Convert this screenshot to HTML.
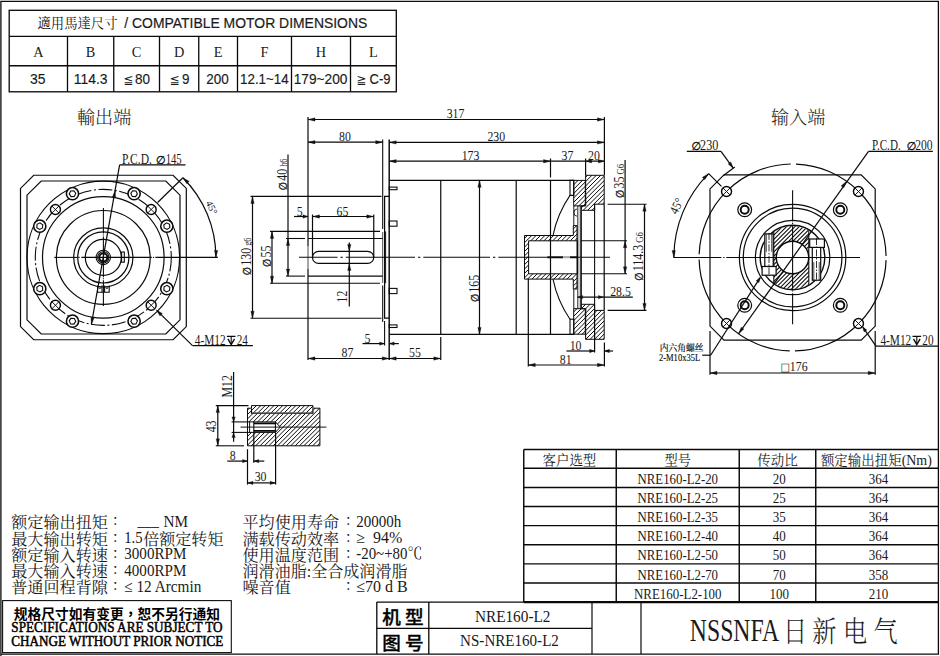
<!DOCTYPE html>
<html lang="zh"><head><meta charset="utf-8"><title>NRE160-L2</title>
<style>
html,body{margin:0;padding:0;background:#fff;}
body{width:940px;height:656px;overflow:hidden;}
svg{display:block;}
svg text{white-space:pre;}
</style></head><body>
<svg width="940" height="656" viewBox="0 0 940 656" fill="none" stroke="#0a0a0a" stroke-linecap="butt">
<rect x="0" y="0" width="940" height="656" fill="#fff" stroke="none"/>
<path d="M0.9 656 V1.3 H938.4 V654.2 H0.9" stroke-width="1.3"/>
<rect x="9.2" y="10.3" width="387.1" height="81.5" stroke-width="1.32" />
<line x1="9.2" y1="36.3" x2="396.3" y2="36.3" stroke-width="1.32" />
<line x1="9.2" y1="65.75" x2="396.3" y2="65.75" stroke-width="1.32" />
<line x1="67.5" y1="36.3" x2="67.5" y2="91.8" stroke-width="1.32" />
<line x1="113.75" y1="36.3" x2="113.75" y2="91.8" stroke-width="1.32" />
<line x1="159.5" y1="36.3" x2="159.5" y2="91.8" stroke-width="1.32" />
<line x1="198.75" y1="36.3" x2="198.75" y2="91.8" stroke-width="1.32" />
<line x1="237.5" y1="36.3" x2="237.5" y2="91.8" stroke-width="1.32" />
<line x1="291.5" y1="36.3" x2="291.5" y2="91.8" stroke-width="1.32" />
<line x1="350.5" y1="36.3" x2="350.5" y2="91.8" stroke-width="1.32" />
<text x="37.5" y="28.2" font-size="13.4" text-anchor="start" font-family="Liberation Serif, Noto Serif CJK SC, serif" textLength="80" lengthAdjust="spacingAndGlyphs" fill="#1a1a1a" stroke="none" >適用馬達尺寸</text>
<text x="124.3" y="28.1" font-size="15" text-anchor="start" font-family="Liberation Sans, Noto Sans CJK SC, sans-serif" textLength="243" lengthAdjust="spacingAndGlyphs" fill="#1a1a1a" stroke="#1a1a1a" stroke-width="0.2" >/ COMPATIBLE MOTOR DIMENSIONS</text>
<text x="38.35" y="57" font-size="14.3" text-anchor="middle" font-family="Liberation Serif, Noto Serif CJK SC, serif" fill="#1a1a1a" stroke="none" >A</text>
<text x="90.62" y="57" font-size="14.3" text-anchor="middle" font-family="Liberation Serif, Noto Serif CJK SC, serif" fill="#1a1a1a" stroke="none" >B</text>
<text x="136.62" y="57" font-size="14.3" text-anchor="middle" font-family="Liberation Serif, Noto Serif CJK SC, serif" fill="#1a1a1a" stroke="none" >C</text>
<text x="179.12" y="57" font-size="14.3" text-anchor="middle" font-family="Liberation Serif, Noto Serif CJK SC, serif" fill="#1a1a1a" stroke="none" >D</text>
<text x="218.12" y="57" font-size="14.3" text-anchor="middle" font-family="Liberation Serif, Noto Serif CJK SC, serif" fill="#1a1a1a" stroke="none" >E</text>
<text x="264.5" y="57" font-size="14.3" text-anchor="middle" font-family="Liberation Serif, Noto Serif CJK SC, serif" fill="#1a1a1a" stroke="none" >F</text>
<text x="321" y="57" font-size="14.3" text-anchor="middle" font-family="Liberation Serif, Noto Serif CJK SC, serif" fill="#1a1a1a" stroke="none" >H</text>
<text x="373.4" y="57" font-size="14.3" text-anchor="middle" font-family="Liberation Serif, Noto Serif CJK SC, serif" fill="#1a1a1a" stroke="none" >L</text>
<text x="30" y="83.9" font-size="14.6" text-anchor="start" font-family="Liberation Sans, Noto Sans CJK SC, sans-serif" textLength="15.5" lengthAdjust="spacingAndGlyphs" fill="#1a1a1a" stroke="#1a1a1a" stroke-width="0.15" >35</text>
<text x="73.75" y="83.9" font-size="14.6" text-anchor="start" font-family="Liberation Sans, Noto Sans CJK SC, sans-serif" textLength="33.75" lengthAdjust="spacingAndGlyphs" fill="#1a1a1a" stroke="#1a1a1a" stroke-width="0.15" >114.3</text>
<text x="135" y="83.9" font-size="14.6" text-anchor="start" font-family="Liberation Sans, Noto Sans CJK SC, sans-serif" textLength="15" lengthAdjust="spacingAndGlyphs" fill="#1a1a1a" stroke="#1a1a1a" stroke-width="0.15" >80</text>
<text x="182" y="83.9" font-size="14.6" text-anchor="start" font-family="Liberation Sans, Noto Sans CJK SC, sans-serif" textLength="7.5" lengthAdjust="spacingAndGlyphs" fill="#1a1a1a" stroke="#1a1a1a" stroke-width="0.15" >9</text>
<text x="206.25" y="83.9" font-size="14.6" text-anchor="start" font-family="Liberation Sans, Noto Sans CJK SC, sans-serif" textLength="22.5" lengthAdjust="spacingAndGlyphs" fill="#1a1a1a" stroke="#1a1a1a" stroke-width="0.15" >200</text>
<text x="240" y="83.9" font-size="14.6" text-anchor="start" font-family="Liberation Sans, Noto Sans CJK SC, sans-serif" textLength="48.75" lengthAdjust="spacingAndGlyphs" fill="#1a1a1a" stroke="#1a1a1a" stroke-width="0.15" >12.1~14</text>
<text x="293.75" y="83.9" font-size="14.6" text-anchor="start" font-family="Liberation Sans, Noto Sans CJK SC, sans-serif" textLength="53.75" lengthAdjust="spacingAndGlyphs" fill="#1a1a1a" stroke="#1a1a1a" stroke-width="0.15" >179~200</text>
<text x="369.5" y="83.9" font-size="14.6" text-anchor="start" font-family="Liberation Sans, Noto Sans CJK SC, sans-serif" textLength="21" lengthAdjust="spacingAndGlyphs" fill="#1a1a1a" stroke="#1a1a1a" stroke-width="0.15" >C-9</text>
<text x="123.5" y="83.6" font-size="12.5" text-anchor="start" font-family="DejaVu Sans, sans-serif" textLength="10" lengthAdjust="spacingAndGlyphs" fill="#1a1a1a" stroke="none" >≦</text>
<text x="169.8" y="83.6" font-size="12.5" text-anchor="start" font-family="DejaVu Sans, sans-serif" textLength="10" lengthAdjust="spacingAndGlyphs" fill="#1a1a1a" stroke="none" >≦</text>
<text x="356.5" y="83.6" font-size="12.5" text-anchor="start" font-family="DejaVu Sans, sans-serif" textLength="10" lengthAdjust="spacingAndGlyphs" fill="#1a1a1a" stroke="none" >≧</text>
<text x="77" y="123.5" font-size="18.1" text-anchor="start" font-family="Liberation Serif, Noto Serif CJK SC, serif" textLength="54.3" lengthAdjust="spacingAndGlyphs" fill="#1a1a1a" stroke="none" font-weight="300">輸出端</text>
<text x="771" y="123.5" font-size="18.1" text-anchor="start" font-family="Liberation Serif, Noto Serif CJK SC, serif" textLength="54.3" lengthAdjust="spacingAndGlyphs" fill="#1a1a1a" stroke="none" font-weight="300">输入端</text>
<path d="M33.7 175.25 L173.1 175.25 L186.3 188.45 L186.3 326.55 L173.1 339.75 L33.7 339.75 L20.5 326.55 L20.5 188.45 Z" stroke-width="1.2" />
<path d="M41.2 181 L165.8 181 L180 195.2 L180 319.8 L165.8 334 L41.2 334 L27 319.8 L27 195.2 Z" stroke-width="1.2" />
<circle cx="103.3" cy="257.4" r="76.3" stroke-width="1.2" />
<circle cx="103.3" cy="257.4" r="60.8" stroke-width="1.2" />
<circle cx="103.3" cy="257.4" r="46.9" stroke-width="1.2" />
<circle cx="103.3" cy="257.4" r="29.6" stroke-width="1.2" />
<circle cx="103.3" cy="257.4" r="25.6" stroke-width="1.2" />
<circle cx="103.3" cy="257.4" r="18" stroke-width="1.2" />
<circle cx="103.3" cy="257.4" r="68" stroke-width="1.08" stroke-dasharray="14 2.5 2 2.5"/>
<circle cx="103.3" cy="257.4" r="7.2" stroke-width="1.08" />
<circle cx="103.3" cy="257.4" r="5.6" stroke-width="1.08" />
<circle cx="103.3" cy="257.4" r="4" stroke-width="1.92" />
<line x1="54.2" y1="257.4" x2="77.2" y2="257.4" stroke-width="1.08" />
<line x1="78.3" y1="257.4" x2="79.6" y2="257.4" stroke-width="1.08" />
<line x1="81.4" y1="257.4" x2="151.8" y2="257.4" stroke-width="1.08" />
<line x1="152.9" y1="257.4" x2="154.2" y2="257.4" stroke-width="1.08" />
<line x1="155.4" y1="257.4" x2="217.9" y2="257.4" stroke-width="1.08" />
<line x1="103.4" y1="208" x2="103.4" y2="233.6" stroke-width="1.08" />
<line x1="103.4" y1="234.4" x2="103.4" y2="235.4" stroke-width="1.08" />
<line x1="103.4" y1="236.4" x2="103.4" y2="277.3" stroke-width="1.08" />
<line x1="103.4" y1="278.2" x2="103.4" y2="279.2" stroke-width="1.08" />
<line x1="103.4" y1="280.2" x2="103.4" y2="306" stroke-width="1.08" />
<rect x="121.6" y="252" width="2.7" height="10.2" stroke-width="1.08" />
<path d="M97.6 285.4 V292.2 H109.2 V285.4 M102 285.4 V292.2 M104.6 285.4 V292.2" stroke-width="1.08" />
<circle cx="99.9" cy="287.6" r="1" stroke-width="0.84" />
<circle cx="106.9" cy="287.6" r="1" stroke-width="0.84" />
<circle cx="166.83" cy="226.14" r="6.1" stroke-width="1.56" fill="#fff"/>
<path d="M169.79 227.6 L167.04 229.43 L164.08 227.98 L163.86 224.68 L166.61 222.85 L169.57 224.31 Z" stroke-width="1.08" />
<circle cx="134.11" cy="193.66" r="6.1" stroke-width="1.56" fill="#fff"/>
<path d="M135.55 196.63 L132.26 196.39 L130.82 193.42 L132.68 190.69 L135.97 190.93 L137.41 193.9 Z" stroke-width="1.08" />
<circle cx="72.49" cy="193.66" r="6.1" stroke-width="1.56" fill="#fff"/>
<path d="M71.05 196.63 L69.19 193.9 L70.63 190.93 L73.92 190.69 L75.78 193.42 L74.34 196.39 Z" stroke-width="1.08" />
<circle cx="39.77" cy="226.14" r="6.1" stroke-width="1.56" fill="#fff"/>
<path d="M36.81 227.6 L37.03 224.31 L39.99 222.85 L42.74 224.68 L42.52 227.98 L39.56 229.43 Z" stroke-width="1.08" />
<circle cx="39.77" cy="288.66" r="6.1" stroke-width="1.56" fill="#fff"/>
<path d="M36.81 287.2 L39.56 285.37 L42.52 286.82 L42.74 290.12 L39.99 291.95 L37.03 290.49 Z" stroke-width="1.08" />
<circle cx="72.49" cy="321.14" r="6.1" stroke-width="1.56" fill="#fff"/>
<path d="M71.05 318.17 L74.34 318.41 L75.78 321.38 L73.92 324.11 L70.63 323.87 L69.19 320.9 Z" stroke-width="1.08" />
<circle cx="134.11" cy="321.14" r="6.1" stroke-width="1.56" fill="#fff"/>
<path d="M135.55 318.17 L137.41 320.9 L135.97 323.87 L132.68 324.11 L130.82 321.38 L132.26 318.41 Z" stroke-width="1.08" />
<circle cx="166.83" cy="288.66" r="6.1" stroke-width="1.56" fill="#fff"/>
<path d="M169.79 287.2 L169.57 290.49 L166.61 291.95 L163.86 290.12 L164.08 286.82 L167.04 285.37 Z" stroke-width="1.08" />
<circle cx="151.17" cy="209.53" r="5" stroke-width="1.44" fill="#fff"/>
<line x1="147.64" y1="205.99" x2="154.71" y2="213.06" stroke-width="0.96" />
<line x1="147.64" y1="213.06" x2="154.71" y2="205.99" stroke-width="0.96" />
<circle cx="55.43" cy="209.53" r="5" stroke-width="1.44" fill="#fff"/>
<line x1="51.89" y1="205.99" x2="58.96" y2="213.06" stroke-width="0.96" />
<line x1="51.89" y1="213.06" x2="58.96" y2="205.99" stroke-width="0.96" />
<circle cx="55.43" cy="305.27" r="5" stroke-width="1.44" fill="#fff"/>
<line x1="51.89" y1="301.74" x2="58.96" y2="308.81" stroke-width="0.96" />
<line x1="51.89" y1="308.81" x2="58.96" y2="301.74" stroke-width="0.96" />
<circle cx="151.17" cy="305.27" r="5" stroke-width="1.44" fill="#fff"/>
<line x1="147.64" y1="301.74" x2="154.71" y2="308.81" stroke-width="0.96" />
<line x1="147.64" y1="308.81" x2="154.71" y2="301.74" stroke-width="0.96" />
<line x1="119.6" y1="164.8" x2="91.38" y2="324.35" stroke-width="1.2" />
<line x1="119.6" y1="164.8" x2="185.5" y2="164.8" stroke-width="1.2" />
<polygon points="115.22,190.45 115.67,197.64 112.32,197.05" fill="#111" stroke="#111" stroke-width="0.3"/>
<polygon points="91.38,324.35 90.93,317.16 94.28,317.75" fill="#111" stroke="#111" stroke-width="0.3"/>
<text x="122.1" y="163.6" font-size="13.6" text-anchor="start" font-family="Liberation Serif, Noto Serif CJK SC, serif" textLength="29.8" lengthAdjust="spacingAndGlyphs" fill="#1a1a1a" stroke="none" >P.C.D.</text>
<text x="155.8" y="163.6" font-size="11.5" font-family="DejaVu Sans, sans-serif" font-style="oblique" fill="#111" stroke="#111" stroke-width="0.35">∅</text>
<text x="165.7" y="163.6" font-size="13.6" text-anchor="start" font-family="Liberation Serif, Noto Serif CJK SC, serif" textLength="16" lengthAdjust="spacingAndGlyphs" fill="#1a1a1a" stroke="none" >145</text>
<path d="M215.9 257.4 A112.6 112.6 0 0 0 182.92 177.78" stroke-width="1.2" />
<polygon points="215.9,257.4 214.38,250.36 217.78,250.45" fill="#111" stroke="#111" stroke-width="0.3"/>
<polygon points="182.92,177.78 189.17,181.37 186.83,183.83" fill="#111" stroke="#111" stroke-width="0.3"/>
<line x1="157.6" y1="202.5" x2="182.92" y2="177.78" stroke-width="1.2" />
<text x="208.6" y="209" font-size="10" text-anchor="middle" font-family="Liberation Serif, Noto Serif CJK SC, serif" transform="rotate(64 208.6 209)" fill="#1a1a1a" stroke="none" >45°</text>
<line x1="156.8" y1="310.4" x2="192.5" y2="345.6" stroke-width="1.2" />
<line x1="192.5" y1="345.6" x2="252.9" y2="345.6" stroke-width="1.2" />
<polygon points="156.2,309.8 162.38,313.49 160,315.92" fill="#111" stroke="#111" stroke-width="0.3"/>
<text x="194.8" y="344.7" font-size="13.6" text-anchor="start" font-family="Liberation Serif, Noto Serif CJK SC, serif" textLength="30.9" lengthAdjust="spacingAndGlyphs" fill="#1a1a1a" stroke="none" >4-M12</text>
<path d="M226.9 336.4 H235.5 M231.2 336.4 V344.2" stroke-width="1.08" />
<path d="M227.9 338.9 L231.2 344.7 L234.5 338.9" stroke-width="1.32" stroke-linejoin="miter"/>
<text x="236.7" y="344.7" font-size="13.6" text-anchor="start" font-family="Liberation Serif, Noto Serif CJK SC, serif" textLength="11.2" lengthAdjust="spacingAndGlyphs" fill="#1a1a1a" stroke="none" >24</text>
<line x1="308" y1="117" x2="308" y2="246" stroke-width="1.2" />
<line x1="308" y1="246" x2="308" y2="269" stroke-width="0.72" />
<line x1="308" y1="269" x2="308" y2="360" stroke-width="1.2" />
<line x1="604.4" y1="117" x2="604.4" y2="175" stroke-width="1.2" />
<line x1="308" y1="119.5" x2="604.4" y2="119.5" stroke-width="1.2" />
<polygon points="308,119.5 315,117.8 315,121.2" fill="#111" stroke="#111" stroke-width="0.3"/>
<polygon points="604.4,119.5 597.4,121.2 597.4,117.8" fill="#111" stroke="#111" stroke-width="0.3"/>
<text transform="translate(455.5 117.3) rotate(0.03) scale(0.87 1)" y="0.5" font-size="13.6" text-anchor="middle" font-family="Liberation Serif, Noto Serif CJK SC, serif" fill="#1a1a1a" stroke="none" >317</text>
<line x1="382.7" y1="139.5" x2="382.7" y2="229" stroke-width="1.08" />
<line x1="382.7" y1="232" x2="382.7" y2="283" stroke-width="0.72" />
<line x1="382.7" y1="285.5" x2="382.7" y2="322" stroke-width="1.08" />
<line x1="389.2" y1="139.5" x2="389.2" y2="360" stroke-width="1.44" />
<line x1="308" y1="142.2" x2="382.7" y2="142.2" stroke-width="1.2" />
<polygon points="308,142.2 315,140.5 315,143.9" fill="#111" stroke="#111" stroke-width="0.3"/>
<polygon points="382.7,142.2 375.7,143.9 375.7,140.5" fill="#111" stroke="#111" stroke-width="0.3"/>
<text transform="translate(345 140.5) rotate(0.03) scale(0.87 1)" y="0.5" font-size="13.6" text-anchor="middle" font-family="Liberation Serif, Noto Serif CJK SC, serif" fill="#1a1a1a" stroke="none" >80</text>
<line x1="389.2" y1="142.4" x2="604.4" y2="142.4" stroke-width="1.2" />
<polygon points="389.2,142.4 396.2,140.7 396.2,144.1" fill="#111" stroke="#111" stroke-width="0.3"/>
<polygon points="604.4,142.4 597.4,144.1 597.4,140.7" fill="#111" stroke="#111" stroke-width="0.3"/>
<text transform="translate(496.3 140.6) rotate(0.03) scale(0.87 1)" y="0.5" font-size="13.6" text-anchor="middle" font-family="Liberation Serif, Noto Serif CJK SC, serif" fill="#1a1a1a" stroke="none" >230</text>
<line x1="389.2" y1="161.2" x2="604.4" y2="161.2" stroke-width="1.2" />
<polygon points="389.2,161.2 396.2,159.5 396.2,162.9" fill="#111" stroke="#111" stroke-width="0.3"/>
<polygon points="550.5,161.2 543.5,162.9 543.5,159.5" fill="#111" stroke="#111" stroke-width="0.3"/>
<polygon points="585.6,161.2 591.6,159.5 591.6,162.9" fill="#111" stroke="#111" stroke-width="0.3"/>
<polygon points="604.4,161.2 598.4,162.9 598.4,159.5" fill="#111" stroke="#111" stroke-width="0.3"/>
<text transform="translate(470.5 159.6) rotate(0.03) scale(0.87 1)" y="0.5" font-size="13.6" text-anchor="middle" font-family="Liberation Serif, Noto Serif CJK SC, serif" fill="#1a1a1a" stroke="none" >173</text>
<text transform="translate(567.5 159.6) rotate(0.03) scale(0.87 1)" y="0.5" font-size="13.6" text-anchor="middle" font-family="Liberation Serif, Noto Serif CJK SC, serif" fill="#1a1a1a" stroke="none" >37</text>
<text transform="translate(594 159.6) rotate(0.03) scale(0.87 1)" y="0.5" font-size="13.6" text-anchor="middle" font-family="Liberation Serif, Noto Serif CJK SC, serif" fill="#1a1a1a" stroke="none" >20</text>
<line x1="550.5" y1="158.5" x2="550.5" y2="177.5" stroke-width="1.2" />
<line x1="585.6" y1="158.5" x2="585.6" y2="175" stroke-width="1.2" />
<line x1="389.2" y1="180.3" x2="573.8" y2="180.3" stroke-width="1.2" />
<line x1="389.2" y1="334.4" x2="573.8" y2="334.4" stroke-width="1.2" />
<line x1="440.75" y1="180.3" x2="440.75" y2="334.4" stroke-width="1.2" />
<line x1="516.2" y1="180.3" x2="516.2" y2="334.4" stroke-width="1.2" />
<line x1="550.5" y1="180.3" x2="550.5" y2="334.4" stroke-width="1.2" />
<line x1="299" y1="257.3" x2="337.5" y2="257.3" stroke-width="1.08" />
<line x1="340.5" y1="257.3" x2="342.8" y2="257.3" stroke-width="1.08" />
<line x1="345.8" y1="257.3" x2="415" y2="257.3" stroke-width="1.08" />
<line x1="418" y1="257.3" x2="420.3" y2="257.3" stroke-width="1.08" />
<line x1="423.3" y1="257.3" x2="490" y2="257.3" stroke-width="1.08" />
<line x1="493" y1="257.3" x2="495.3" y2="257.3" stroke-width="1.08" />
<line x1="498.3" y1="257.3" x2="610" y2="257.3" stroke-width="1.08" />
<line x1="286" y1="238.5" x2="305" y2="238.5" stroke-width="1.08" />
<line x1="308" y1="238.5" x2="382.7" y2="238.5" stroke-width="1.08" />
<line x1="286" y1="276.1" x2="305" y2="276.1" stroke-width="1.08" />
<line x1="308" y1="276.1" x2="382.7" y2="276.1" stroke-width="1.08" />
<line x1="270" y1="231.4" x2="380" y2="231.4" stroke-width="1.08" />
<line x1="270" y1="283.2" x2="380" y2="283.2" stroke-width="1.08" />
<line x1="250.5" y1="196.4" x2="381.5" y2="196.4" stroke-width="1.08" />
<line x1="250.5" y1="318.2" x2="381.5" y2="318.2" stroke-width="1.08" />
<path d="M389.2 196.4 H384.6 V318.2 H389.2" stroke-width="1.2" />
<line x1="385.6" y1="231.4" x2="385.6" y2="283.2" stroke-width="0.96" />
<path d="M318.5 251.4 H367.7 A6 6 0 0 1 367.7 263.4 H318.5 A6 6 0 0 1 318.5 251.4 Z" stroke-width="1.2" />
<line x1="312.5" y1="214.5" x2="312.5" y2="257.4" stroke-width="1.2" />
<line x1="373.75" y1="214.5" x2="373.75" y2="257.4" stroke-width="1.2" />
<line x1="312.5" y1="216.5" x2="373.75" y2="216.5" stroke-width="1.2" />
<polygon points="312.5,216.5 319.5,214.8 319.5,218.2" fill="#111" stroke="#111" stroke-width="0.3"/>
<polygon points="373.75,216.5 366.75,218.2 366.75,214.8" fill="#111" stroke="#111" stroke-width="0.3"/>
<line x1="294" y1="216.5" x2="308" y2="216.5" stroke-width="1.2" />
<polygon points="308,216.5 303,218.2 303,214.8" fill="#111" stroke="#111" stroke-width="0.3"/>
<text transform="translate(299.8 215.2) rotate(0.03) scale(0.87 1)" y="0.5" font-size="13.6" text-anchor="middle" font-family="Liberation Serif, Noto Serif CJK SC, serif" fill="#1a1a1a" stroke="none" >5</text>
<text transform="translate(342.5 215.2) rotate(0.03) scale(0.87 1)" y="0.5" font-size="13.6" text-anchor="middle" font-family="Liberation Serif, Noto Serif CJK SC, serif" fill="#1a1a1a" stroke="none" >65</text>
<line x1="349.3" y1="242.5" x2="349.3" y2="306.5" stroke-width="1.2" />
<polygon points="349.3,251.4 347.6,244.4 351,244.4" fill="#111" stroke="#111" stroke-width="0.3"/>
<polygon points="349.3,263.4 351,270.4 347.6,270.4" fill="#111" stroke="#111" stroke-width="0.3"/>
<text transform="translate(346.6 296.5) rotate(-90) scale(0.87 1)" y="0.5" font-size="13.6" text-anchor="middle" font-family="Liberation Serif, Noto Serif CJK SC, serif" fill="#1a1a1a" stroke="none" >12</text>
<line x1="252.5" y1="196.4" x2="252.5" y2="318.2" stroke-width="1.2" />
<polygon points="252.5,196.4 254.2,203.4 250.8,203.4" fill="#111" stroke="#111" stroke-width="0.3"/>
<polygon points="252.5,318.2 250.8,311.2 254.2,311.2" fill="#111" stroke="#111" stroke-width="0.3"/>
<text transform="translate(250.6 256.5) rotate(-90) scale(0.87 1)" y="0.5" font-size="13.6" text-anchor="middle" font-family="Liberation Serif, Noto Serif CJK SC, serif" fill="#1a1a1a" stroke="none" ><tspan font-family="DejaVu Sans" font-style="oblique" font-size="11.5" stroke="#111" stroke-width="0.35">∅</tspan><tspan font-size="5"> </tspan>130<tspan font-size="9.5"> g6</tspan></text>
<line x1="272" y1="231.4" x2="272" y2="283.2" stroke-width="1.2" />
<polygon points="272,231.4 273.7,238.4 270.3,238.4" fill="#111" stroke="#111" stroke-width="0.3"/>
<polygon points="272,283.2 270.3,276.2 273.7,276.2" fill="#111" stroke="#111" stroke-width="0.3"/>
<text transform="translate(270.4 256.5) rotate(-90) scale(0.87 1)" y="0.5" font-size="13.6" text-anchor="middle" font-family="Liberation Serif, Noto Serif CJK SC, serif" fill="#1a1a1a" stroke="none" ><tspan font-family="DejaVu Sans" font-style="oblique" font-size="11.5" stroke="#111" stroke-width="0.35">∅</tspan><tspan font-size="5"> </tspan>55</text>
<line x1="288" y1="154.5" x2="288" y2="276.1" stroke-width="1.2" />
<polygon points="288,238.5 289.7,245.5 286.3,245.5" fill="#111" stroke="#111" stroke-width="0.3"/>
<polygon points="288,276.1 286.3,269.1 289.7,269.1" fill="#111" stroke="#111" stroke-width="0.3"/>
<text transform="translate(286.2 174.5) rotate(-90) scale(0.87 1)" y="0.5" font-size="13.6" text-anchor="middle" font-family="Liberation Serif, Noto Serif CJK SC, serif" fill="#1a1a1a" stroke="none" ><tspan font-family="DejaVu Sans" font-style="oblique" font-size="11.5" stroke="#111" stroke-width="0.35">∅</tspan><tspan font-size="5"> </tspan>40<tspan font-size="9.5"> h6</tspan></text>
<rect x="389.2" y="187.1" width="7.8" height="2.6" stroke-width="1.08" />
<rect x="389.2" y="324.9" width="7.8" height="2.6" stroke-width="1.08" />
<rect x="389.2" y="221" width="7.8" height="5.2" stroke-width="1.08" />
<rect x="389.2" y="288.4" width="7.8" height="5.2" stroke-width="1.08" />
<line x1="479.5" y1="180.3" x2="479.5" y2="334.4" stroke-width="1.2" />
<polygon points="479.5,180.3 481.2,187.3 477.8,187.3" fill="#111" stroke="#111" stroke-width="0.3"/>
<polygon points="479.5,334.4 477.8,327.4 481.2,327.4" fill="#111" stroke="#111" stroke-width="0.3"/>
<text transform="translate(478.4 288.6) rotate(-90) scale(0.87 1)" y="0.5" font-size="13.6" text-anchor="middle" font-family="Liberation Serif, Noto Serif CJK SC, serif" fill="#1a1a1a" stroke="none" ><tspan font-family="DejaVu Sans" font-style="oblique" font-size="11.5" stroke="#111" stroke-width="0.35">∅</tspan><tspan font-size="5"> </tspan>165</text>
<line x1="440.75" y1="337" x2="440.75" y2="360" stroke-width="1.2" />
<line x1="308" y1="358.5" x2="440.75" y2="358.5" stroke-width="1.2" />
<polygon points="308,358.5 315,356.8 315,360.2" fill="#111" stroke="#111" stroke-width="0.3"/>
<polygon points="389.2,358.5 382.2,360.2 382.2,356.8" fill="#111" stroke="#111" stroke-width="0.3"/>
<polygon points="389.2,358.5 396.2,356.8 396.2,360.2" fill="#111" stroke="#111" stroke-width="0.3"/>
<polygon points="440.75,358.5 433.75,360.2 433.75,356.8" fill="#111" stroke="#111" stroke-width="0.3"/>
<text transform="translate(347.5 356.8) rotate(0.03) scale(0.87 1)" y="0.5" font-size="13.6" text-anchor="middle" font-family="Liberation Serif, Noto Serif CJK SC, serif" fill="#1a1a1a" stroke="none" >87</text>
<text transform="translate(415 356.8) rotate(0.03) scale(0.87 1)" y="0.5" font-size="13.6" text-anchor="middle" font-family="Liberation Serif, Noto Serif CJK SC, serif" fill="#1a1a1a" stroke="none" >55</text>
<line x1="384.6" y1="321" x2="384.6" y2="345.5" stroke-width="1.08" />
<line x1="362.5" y1="343.6" x2="384.6" y2="343.6" stroke-width="1.2" />
<polygon points="384.6,343.6 379.6,345.3 379.6,341.9" fill="#111" stroke="#111" stroke-width="0.3"/>
<line x1="389.2" y1="343.6" x2="398.8" y2="343.6" stroke-width="1.2" />
<polygon points="389.2,343.6 394.2,341.9 394.2,345.3" fill="#111" stroke="#111" stroke-width="0.3"/>
<text transform="translate(367.5 342.2) rotate(0.03) scale(0.87 1)" y="0.5" font-size="13.6" text-anchor="middle" font-family="Liberation Serif, Noto Serif CJK SC, serif" fill="#1a1a1a" stroke="none" >5</text>
<rect x="570" y="180.3" width="3.8" height="15.1" stroke-width="1.08" />
<rect x="570" y="319.2" width="3.8" height="15.1" stroke-width="1.08" />
<path d="M570 195.4 A109.4 109.4 0 0 0 553 235.5" stroke-width="1.08" />
<path d="M553 279.1 A109.4 109.4 0 0 0 570 319.2" stroke-width="1.08" />
<line x1="570" y1="195.4" x2="573.8" y2="195.4" stroke-width="1.08" />
<clipPath id="h1"><path d="M573.7 180.4 L585.3 180.4 L585.3 205.9 L573.7 205.9 Z " clip-rule="evenodd"/></clipPath>
<g clip-path="url(#h1)" stroke-width="1.0"><line x1="556.69" y1="192.98" x2="579.33" y2="170.34"/><line x1="558.89" y1="195.17" x2="581.52" y2="172.54"/><line x1="561.08" y1="197.37" x2="583.72" y2="174.73"/><line x1="563.27" y1="199.56" x2="585.91" y2="176.92"/><line x1="565.46" y1="201.75" x2="588.1" y2="179.11"/><line x1="567.65" y1="203.94" x2="590.29" y2="181.3"/><line x1="569.85" y1="206.13" x2="592.48" y2="183.5"/><line x1="572.04" y1="208.33" x2="594.68" y2="185.69"/><line x1="574.23" y1="210.52" x2="596.87" y2="187.88"/><line x1="576.42" y1="212.71" x2="599.06" y2="190.07"/><line x1="578.61" y1="214.9" x2="601.25" y2="192.26"/><line x1="580.81" y1="217.09" x2="603.44" y2="194.46"/></g>
<path d="M573.7 180.4 L585.3 180.4 L585.3 205.9 L573.7 205.9 Z " stroke-width="1" fill="none" fill-rule="evenodd"/>
<clipPath id="h2"><path d="M585.6 175.3 L604.2 175.3 L604.2 204.2 L594.6 204.2 L594.6 210.3 L581.4 210.3 L581.4 205.8 L585.8 205.8 Z " clip-rule="evenodd"/></clipPath>
<g clip-path="url(#h2)" stroke-width="1.0"><line x1="558.65" y1="191.02" x2="591.02" y2="158.65"/><line x1="560.85" y1="193.21" x2="593.21" y2="160.85"/><line x1="563.04" y1="195.4" x2="595.4" y2="163.04"/><line x1="565.23" y1="197.6" x2="597.6" y2="165.23"/><line x1="567.42" y1="199.79" x2="599.79" y2="167.42"/><line x1="569.61" y1="201.98" x2="601.98" y2="169.61"/><line x1="571.81" y1="204.17" x2="604.17" y2="171.81"/><line x1="574" y1="206.36" x2="606.36" y2="174"/><line x1="576.19" y1="208.56" x2="608.56" y2="176.19"/><line x1="578.38" y1="210.75" x2="610.75" y2="178.38"/><line x1="580.58" y1="212.94" x2="612.94" y2="180.58"/><line x1="582.77" y1="215.13" x2="615.13" y2="182.77"/><line x1="584.96" y1="217.32" x2="617.32" y2="184.96"/><line x1="587.15" y1="219.52" x2="619.52" y2="187.15"/><line x1="589.34" y1="221.71" x2="621.71" y2="189.34"/><line x1="591.54" y1="223.9" x2="623.9" y2="191.54"/><line x1="593.73" y1="226.09" x2="626.09" y2="193.73"/></g>
<path d="M585.6 175.3 L604.2 175.3 L604.2 204.2 L594.6 204.2 L594.6 210.3 L581.4 210.3 L581.4 205.8 L585.8 205.8 Z " stroke-width="1" fill="none" fill-rule="evenodd"/>
<clipPath id="h3"><path d="M573.7 334.2 L585.3 334.2 L585.3 308.7 L573.7 308.7 Z " clip-rule="evenodd"/></clipPath>
<g clip-path="url(#h3)" stroke-width="1.0"><line x1="556.11" y1="320.7" x2="578.75" y2="298.06"/><line x1="558.3" y1="322.89" x2="580.94" y2="300.25"/><line x1="560.5" y1="325.08" x2="583.13" y2="302.45"/><line x1="562.69" y1="327.28" x2="585.33" y2="304.64"/><line x1="564.88" y1="329.47" x2="587.52" y2="306.83"/><line x1="567.07" y1="331.66" x2="589.71" y2="309.02"/><line x1="569.26" y1="333.85" x2="591.9" y2="311.21"/><line x1="571.46" y1="336.04" x2="594.09" y2="313.41"/><line x1="573.65" y1="338.24" x2="596.29" y2="315.6"/><line x1="575.84" y1="340.43" x2="598.48" y2="317.79"/><line x1="578.03" y1="342.62" x2="600.67" y2="319.98"/><line x1="580.22" y1="344.81" x2="602.86" y2="322.17"/></g>
<path d="M573.7 334.2 L585.3 334.2 L585.3 308.7 L573.7 308.7 Z " stroke-width="1" fill="none" fill-rule="evenodd"/>
<clipPath id="h4"><path d="M585.6 339.3 L604.2 339.3 L604.2 310.4 L594.6 310.4 L594.6 304.3 L581.4 304.3 L581.4 308.8 L585.8 308.8 Z " clip-rule="evenodd"/></clipPath>
<g clip-path="url(#h4)" stroke-width="1.0"><line x1="559.92" y1="321.28" x2="592.28" y2="288.92"/><line x1="562.11" y1="323.47" x2="594.47" y2="291.11"/><line x1="564.3" y1="325.66" x2="596.66" y2="293.3"/><line x1="566.49" y1="327.86" x2="598.86" y2="295.49"/><line x1="568.68" y1="330.05" x2="601.05" y2="297.68"/><line x1="570.88" y1="332.24" x2="603.24" y2="299.88"/><line x1="573.07" y1="334.43" x2="605.43" y2="302.07"/><line x1="575.26" y1="336.63" x2="607.63" y2="304.26"/><line x1="577.45" y1="338.82" x2="609.82" y2="306.45"/><line x1="579.64" y1="341.01" x2="612.01" y2="308.64"/><line x1="581.84" y1="343.2" x2="614.2" y2="310.84"/><line x1="584.03" y1="345.39" x2="616.39" y2="313.03"/><line x1="586.22" y1="347.59" x2="618.59" y2="315.22"/><line x1="588.41" y1="349.78" x2="620.78" y2="317.41"/><line x1="590.6" y1="351.97" x2="622.97" y2="319.6"/><line x1="592.8" y1="354.16" x2="625.16" y2="321.8"/><line x1="594.99" y1="356.35" x2="627.35" y2="323.99"/></g>
<path d="M585.6 339.3 L604.2 339.3 L604.2 310.4 L594.6 310.4 L594.6 304.3 L581.4 304.3 L581.4 308.8 L585.8 308.8 Z " stroke-width="1" fill="none" fill-rule="evenodd"/>
<line x1="577.8" y1="205.8" x2="577.8" y2="308.8" stroke-width="0.9" />
<line x1="580.3" y1="205.8" x2="580.3" y2="308.8" stroke-width="0.9" />
<line x1="581.4" y1="210.3" x2="581.4" y2="304.3" stroke-width="0.96" />
<line x1="594.6" y1="204.2" x2="594.6" y2="310.4" stroke-width="1.08" />
<line x1="604.2" y1="204.2" x2="604.2" y2="310.4" stroke-width="1.2" />
<line x1="573.8" y1="205.8" x2="573.8" y2="225.6" stroke-width="0.96" />
<line x1="573.8" y1="308.8" x2="573.8" y2="289" stroke-width="0.96" />
<path d="M577 209 A3 3.6 0 0 0 577 216.2" stroke-width="0.84" />
<clipPath id="h5"><path d="M524.5 235.5 L573.3 235.5 L573.3 225.6 L577 225.6 L577 289 L573.3 289 L573.3 279.1 L524.5 279.1 Z M528.6 240.8 L577.6 240.8 L577.6 273.8 L528.6 273.8 Z " clip-rule="evenodd"/></clipPath>
<g clip-path="url(#h5)" stroke-width="1.0"><line x1="488.87" y1="256.42" x2="550.17" y2="195.12"/><line x1="491.06" y1="258.62" x2="552.37" y2="197.31"/><line x1="493.25" y1="260.81" x2="554.56" y2="199.5"/><line x1="495.44" y1="263" x2="556.75" y2="201.69"/><line x1="497.64" y1="265.19" x2="558.94" y2="203.89"/><line x1="499.83" y1="267.38" x2="561.13" y2="206.08"/><line x1="502.02" y1="269.58" x2="563.33" y2="208.27"/><line x1="504.21" y1="271.77" x2="565.52" y2="210.46"/><line x1="506.4" y1="273.96" x2="567.71" y2="212.65"/><line x1="508.6" y1="276.15" x2="569.9" y2="214.85"/><line x1="510.79" y1="278.34" x2="572.09" y2="217.04"/><line x1="512.98" y1="280.54" x2="574.29" y2="219.23"/><line x1="515.17" y1="282.73" x2="576.48" y2="221.42"/><line x1="517.36" y1="284.92" x2="578.67" y2="223.61"/><line x1="519.56" y1="287.11" x2="580.86" y2="225.81"/><line x1="521.75" y1="289.3" x2="583.05" y2="228"/><line x1="523.94" y1="291.5" x2="585.25" y2="230.19"/><line x1="526.13" y1="293.69" x2="587.44" y2="232.38"/><line x1="528.32" y1="295.88" x2="589.63" y2="234.57"/><line x1="530.52" y1="298.07" x2="591.82" y2="236.77"/><line x1="532.71" y1="300.26" x2="594.01" y2="238.96"/><line x1="534.9" y1="302.46" x2="596.21" y2="241.15"/><line x1="537.09" y1="304.65" x2="598.4" y2="243.34"/><line x1="539.28" y1="306.84" x2="600.59" y2="245.53"/><line x1="541.48" y1="309.03" x2="602.78" y2="247.73"/><line x1="543.67" y1="311.22" x2="604.97" y2="249.92"/><line x1="545.86" y1="313.42" x2="607.17" y2="252.11"/><line x1="548.05" y1="315.61" x2="609.36" y2="254.3"/><line x1="550.24" y1="317.8" x2="611.55" y2="256.49"/><line x1="552.44" y1="319.99" x2="613.74" y2="258.69"/></g>
<path d="M524.5 235.5 L573.3 235.5 L573.3 225.6 L577 225.6 L577 289 L573.3 289 L573.3 279.1 L524.5 279.1 Z M528.6 240.8 L577.6 240.8 L577.6 273.8 L528.6 273.8 Z " stroke-width="1" fill="none" fill-rule="evenodd"/>
<line x1="528.3" y1="279.1" x2="528.3" y2="366.5" stroke-width="1.2" />
<line x1="547.4" y1="257.3" x2="563" y2="257.3" stroke-width="1.92" />
<line x1="563" y1="257.3" x2="570" y2="257.3" stroke-width="1.92" stroke="#aaa"/>
<line x1="570" y1="257.3" x2="577.5" y2="257.3" stroke-width="1.92" />
<line x1="581" y1="240.8" x2="627" y2="240.8" stroke-width="1.08" />
<line x1="581" y1="273.8" x2="627" y2="273.8" stroke-width="1.08" />
<line x1="625.1" y1="160" x2="625.1" y2="273.8" stroke-width="1.2" />
<polygon points="625.1,240.8 626.8,247.8 623.4,247.8" fill="#111" stroke="#111" stroke-width="0.3"/>
<polygon points="625.1,273.8 623.4,266.8 626.8,266.8" fill="#111" stroke="#111" stroke-width="0.3"/>
<text transform="translate(623.6 181) rotate(-90) scale(0.87 1)" y="0.5" font-size="13.6" text-anchor="middle" font-family="Liberation Serif, Noto Serif CJK SC, serif" fill="#1a1a1a" stroke="none" ><tspan font-family="DejaVu Sans" font-style="oblique" font-size="11.5" stroke="#111" stroke-width="0.35">∅</tspan><tspan font-size="5"> </tspan>35<tspan font-size="10"> G6</tspan></text>
<line x1="607.6" y1="204.2" x2="646.5" y2="204.2" stroke-width="1.08" />
<line x1="607.6" y1="310.4" x2="646.5" y2="310.4" stroke-width="1.08" />
<line x1="644.5" y1="204.2" x2="644.5" y2="310.4" stroke-width="1.2" />
<polygon points="644.5,204.2 646.2,211.2 642.8,211.2" fill="#111" stroke="#111" stroke-width="0.3"/>
<polygon points="644.5,310.4 642.8,303.4 646.2,303.4" fill="#111" stroke="#111" stroke-width="0.3"/>
<text transform="translate(642.6 256.5) rotate(-90) scale(0.87 1)" y="0.5" font-size="13.6" text-anchor="middle" font-family="Liberation Serif, Noto Serif CJK SC, serif" fill="#1a1a1a" stroke="none" ><tspan font-family="DejaVu Sans" font-style="oblique" font-size="11.5" stroke="#111" stroke-width="0.35">∅</tspan><tspan font-size="5"> </tspan>114.3<tspan font-size="10"> G6</tspan></text>
<line x1="577.6" y1="297.1" x2="632.8" y2="297.1" stroke-width="1.2" />
<polygon points="577.6,297.1 582.6,295.4 582.6,298.8" fill="#111" stroke="#111" stroke-width="0.3"/>
<polygon points="603.4,297.1 598.4,298.8 598.4,295.4" fill="#111" stroke="#111" stroke-width="0.3"/>
<text transform="translate(620.5 295.3) rotate(0.03) scale(0.87 1)" y="0.5" font-size="13.6" text-anchor="middle" font-family="Liberation Serif, Noto Serif CJK SC, serif" fill="#1a1a1a" stroke="none" >28.5</text>
<line x1="594.6" y1="310.4" x2="594.6" y2="352.5" stroke-width="1.2" />
<line x1="604.4" y1="342.6" x2="604.4" y2="366.5" stroke-width="1.2" />
<line x1="566.4" y1="351" x2="594.6" y2="351" stroke-width="1.2" />
<polygon points="594.6,351 589.6,352.7 589.6,349.3" fill="#111" stroke="#111" stroke-width="0.3"/>
<line x1="604.4" y1="351" x2="613" y2="351" stroke-width="1.2" />
<polygon points="604.4,351 609.4,349.3 609.4,352.7" fill="#111" stroke="#111" stroke-width="0.3"/>
<text transform="translate(575.6 349.4) rotate(0.03) scale(0.87 1)" y="0.5" font-size="13.6" text-anchor="middle" font-family="Liberation Serif, Noto Serif CJK SC, serif" fill="#1a1a1a" stroke="none" >10</text>
<line x1="528.3" y1="365" x2="604.4" y2="365" stroke-width="1.2" />
<polygon points="528.3,365 535.3,363.3 535.3,366.7" fill="#111" stroke="#111" stroke-width="0.3"/>
<polygon points="604.4,365 597.4,366.7 597.4,363.3" fill="#111" stroke="#111" stroke-width="0.3"/>
<text transform="translate(565.7 363.3) rotate(0.03) scale(0.87 1)" y="0.5" font-size="13.6" text-anchor="middle" font-family="Liberation Serif, Noto Serif CJK SC, serif" fill="#1a1a1a" stroke="none" >81</text>
<path d="M724 174.9 L861.2 174.9 L875.2 188.9 L875.2 326.1 L861.2 340.1 L724 340.1 L710 326.1 L710 188.9 Z" stroke-width="1.2" />
<circle cx="792.6" cy="257.5" r="93.5" stroke-width="1.2" stroke-dasharray="141.5 5.4" stroke-dashoffset="-2.7"/>
<circle cx="792.6" cy="257.5" r="53.2" stroke-width="1.2" />
<circle cx="792.6" cy="257.5" r="49.3" stroke-width="1.2" />
<circle cx="792.6" cy="257.5" r="37.2" stroke-width="1.2" />
<clipPath id="hub"><path d="M760.9 257.5 a31.6 31.6 0 1 0 63.2 0 a31.6 31.6 0 1 0 -63.2 0 Z M776.3 257.5 a16.2 16.2 0 1 0 32.4 0 a16.2 16.2 0 1 0 -32.4 0 Z" clip-rule="evenodd"/></clipPath>
<clipPath id="hubband"><rect x="773.8" y="220" width="35.0" height="76"/></clipPath>
<g clip-path="url(#hubband)"><g clip-path="url(#hub)" stroke-width="1.05"><line x1="659.3" y1="290.9" x2="726.1" y2="224.1"/><line x1="663.5" y1="290.9" x2="730.3" y2="224.1"/><line x1="667.7" y1="290.9" x2="734.5" y2="224.1"/><line x1="671.9" y1="290.9" x2="738.7" y2="224.1"/><line x1="676.1" y1="290.9" x2="742.9" y2="224.1"/><line x1="680.3" y1="290.9" x2="747.1" y2="224.1"/><line x1="684.5" y1="290.9" x2="751.3" y2="224.1"/><line x1="688.7" y1="290.9" x2="755.5" y2="224.1"/><line x1="692.9" y1="290.9" x2="759.7" y2="224.1"/><line x1="697.1" y1="290.9" x2="763.9" y2="224.1"/><line x1="701.3" y1="290.9" x2="768.1" y2="224.1"/><line x1="705.5" y1="290.9" x2="772.3" y2="224.1"/><line x1="709.7" y1="290.9" x2="776.5" y2="224.1"/><line x1="713.9" y1="290.9" x2="780.7" y2="224.1"/><line x1="718.1" y1="290.9" x2="784.9" y2="224.1"/><line x1="722.3" y1="290.9" x2="789.1" y2="224.1"/><line x1="726.5" y1="290.9" x2="793.3" y2="224.1"/><line x1="730.7" y1="290.9" x2="797.5" y2="224.1"/><line x1="734.9" y1="290.9" x2="801.7" y2="224.1"/><line x1="739.1" y1="290.9" x2="805.9" y2="224.1"/><line x1="743.3" y1="290.9" x2="810.1" y2="224.1"/><line x1="747.5" y1="290.9" x2="814.3" y2="224.1"/><line x1="751.7" y1="290.9" x2="818.5" y2="224.1"/><line x1="755.9" y1="290.9" x2="822.7" y2="224.1"/><line x1="760.1" y1="290.9" x2="826.9" y2="224.1"/><line x1="764.3" y1="290.9" x2="831.1" y2="224.1"/><line x1="768.5" y1="290.9" x2="835.3" y2="224.1"/><line x1="772.7" y1="290.9" x2="839.5" y2="224.1"/><line x1="776.9" y1="290.9" x2="843.7" y2="224.1"/><line x1="781.1" y1="290.9" x2="847.9" y2="224.1"/><line x1="785.3" y1="290.9" x2="852.1" y2="224.1"/><line x1="789.5" y1="290.9" x2="856.3" y2="224.1"/><line x1="793.7" y1="290.9" x2="860.5" y2="224.1"/><line x1="797.9" y1="290.9" x2="864.7" y2="224.1"/><line x1="802.1" y1="290.9" x2="868.9" y2="224.1"/><line x1="806.3" y1="290.9" x2="873.1" y2="224.1"/><line x1="810.5" y1="290.9" x2="877.3" y2="224.1"/><line x1="814.7" y1="290.9" x2="881.5" y2="224.1"/><line x1="818.9" y1="290.9" x2="885.7" y2="224.1"/><line x1="823.1" y1="290.9" x2="889.9" y2="224.1"/><line x1="827.3" y1="290.9" x2="894.1" y2="224.1"/><line x1="831.5" y1="290.9" x2="898.3" y2="224.1"/><line x1="835.7" y1="290.9" x2="902.5" y2="224.1"/><line x1="839.9" y1="290.9" x2="906.7" y2="224.1"/><line x1="844.1" y1="290.9" x2="910.9" y2="224.1"/><line x1="848.3" y1="290.9" x2="915.1" y2="224.1"/><line x1="852.5" y1="290.9" x2="919.3" y2="224.1"/><line x1="856.7" y1="290.9" x2="923.5" y2="224.1"/><line x1="860.9" y1="290.9" x2="927.7" y2="224.1"/></g></g>
<circle cx="792.5" cy="257.5" r="32.3" stroke-width="1.38" />
<circle cx="792.5" cy="257.5" r="16.2" stroke-width="1.38" />
<line x1="773.8" y1="232.03" x2="773.8" y2="282.97" stroke-width="1.08" />
<line x1="808.8" y1="230.43" x2="808.8" y2="284.57" stroke-width="1.08" />
<rect x="764.8" y="233.9" width="8.4" height="32.6" stroke-width="1.2" fill="#fff"/>
<rect x="762.1" y="266.5" width="14" height="8.7" stroke-width="1.2" fill="#fff"/>
<line x1="769" y1="232.9" x2="769" y2="276.2" stroke-width="0.84" stroke-dasharray="7 1.5 1.5 1.5"/>
<line x1="766.3" y1="233.9" x2="766.3" y2="251.83" stroke-width="0.72" />
<line x1="771.7" y1="233.9" x2="771.7" y2="251.83" stroke-width="0.72" />
<rect x="812.3" y="247.4" width="8.4" height="32.8" stroke-width="1.2" fill="#fff"/>
<rect x="809.7" y="239" width="14.7" height="8.4" stroke-width="1.2" fill="#fff"/>
<line x1="816.5" y1="238" x2="816.5" y2="281.2" stroke-width="0.84" stroke-dasharray="7 1.5 1.5 1.5"/>
<line x1="813.8" y1="262.16" x2="813.8" y2="280.2" stroke-width="0.72" />
<line x1="819.2" y1="262.16" x2="819.2" y2="280.2" stroke-width="0.72" />
<line x1="673.5" y1="257.5" x2="721.4" y2="257.5" stroke-width="1.08" />
<line x1="723.2" y1="257.5" x2="724.5" y2="257.5" stroke-width="1.08" />
<line x1="726.3" y1="257.5" x2="860" y2="257.5" stroke-width="1.08" />
<line x1="792.6" y1="190.3" x2="792.6" y2="221.6" stroke-width="1.08" />
<line x1="792.6" y1="222.8" x2="792.6" y2="224" stroke-width="1.08" />
<line x1="792.6" y1="225.2" x2="792.6" y2="288.8" stroke-width="1.08" />
<line x1="792.6" y1="290.4" x2="792.6" y2="291.6" stroke-width="1.08" />
<line x1="792.6" y1="293.2" x2="792.6" y2="324.3" stroke-width="1.08" />
<circle cx="858.47" cy="191.53" r="5" stroke-width="1.44" fill="#fff"/>
<line x1="854.94" y1="187.99" x2="862.01" y2="195.06" stroke-width="0.96" />
<line x1="854.94" y1="195.06" x2="862.01" y2="187.99" stroke-width="0.96" />
<circle cx="726.53" cy="191.53" r="5" stroke-width="1.44" fill="#fff"/>
<line x1="722.99" y1="187.99" x2="730.06" y2="195.06" stroke-width="0.96" />
<line x1="722.99" y1="195.06" x2="730.06" y2="187.99" stroke-width="0.96" />
<circle cx="726.53" cy="323.47" r="5" stroke-width="1.44" fill="#fff"/>
<line x1="722.99" y1="319.94" x2="730.06" y2="327.01" stroke-width="0.96" />
<line x1="722.99" y1="327.01" x2="730.06" y2="319.94" stroke-width="0.96" />
<circle cx="858.47" cy="323.47" r="5" stroke-width="1.44" fill="#fff"/>
<line x1="854.94" y1="319.94" x2="862.01" y2="327.01" stroke-width="0.96" />
<line x1="854.94" y1="327.01" x2="862.01" y2="319.94" stroke-width="0.96" />
<circle cx="744.7" cy="209.7" r="6.9" stroke-width="1.2" fill="#fff"/>
<circle cx="744.7" cy="209.7" r="4" stroke-width="1.92" />
<circle cx="744.7" cy="305.3" r="6.9" stroke-width="1.2" fill="#fff"/>
<circle cx="744.7" cy="305.3" r="4" stroke-width="1.92" />
<circle cx="840.3" cy="209.7" r="6.9" stroke-width="1.2" fill="#fff"/>
<circle cx="840.3" cy="209.7" r="4" stroke-width="1.92" />
<circle cx="840.3" cy="305.3" r="6.9" stroke-width="1.2" fill="#fff"/>
<circle cx="840.3" cy="305.3" r="4" stroke-width="1.92" />
<path d="M673.9 257.5 A118.6 118.6 0 0 1 708.64 173.64" stroke-width="1.2" />
<polygon points="673.9,257.5 672.02,250.55 675.42,250.46" fill="#111" stroke="#111" stroke-width="0.3"/>
<polygon points="708.64,173.64 704.73,179.69 702.39,177.22" fill="#111" stroke="#111" stroke-width="0.3"/>
<line x1="708.64" y1="173.64" x2="721.44" y2="186.44" stroke-width="1.2" />
<text transform="translate(680 207.5) rotate(-65) scale(0.87 1)" y="0.5" font-size="13" text-anchor="middle" font-family="Liberation Serif, Noto Serif CJK SC, serif" fill="#1a1a1a" stroke="none" >45°</text>
<line x1="686.8" y1="151.3" x2="721" y2="151.3" stroke-width="1.2" />
<line x1="721" y1="151.3" x2="733" y2="167.8" stroke-width="1.2" />
<polygon points="733.3,168.2 728.1,163.94 730.85,161.94" fill="#111" stroke="#111" stroke-width="0.3"/>
<line x1="723.5" y1="175.6" x2="734.8" y2="166.9" stroke-width="1.2" />
<text x="691.2" y="150" font-size="11.5" font-family="DejaVu Sans, sans-serif" font-style="oblique" fill="#111" stroke="#111" stroke-width="0.35">∅</text>
<text x="700.1" y="150" font-size="13.6" text-anchor="start" font-family="Liberation Serif, Noto Serif CJK SC, serif" textLength="18.2" lengthAdjust="spacingAndGlyphs" fill="#1a1a1a" stroke="none" >230</text>
<line x1="868.5" y1="151.3" x2="932.8" y2="151.3" stroke-width="1.2" />
<line x1="868.5" y1="151.3" x2="738.51" y2="333.85" stroke-width="1.2" />
<polygon points="846.49,181.15 843.83,187.85 841.06,185.89" fill="#111" stroke="#111" stroke-width="0.3"/>
<polygon points="738.51,333.85 741.17,327.15 743.94,329.11" fill="#111" stroke="#111" stroke-width="0.3"/>
<text x="872" y="150" font-size="13.6" text-anchor="start" font-family="Liberation Serif, Noto Serif CJK SC, serif" textLength="28.7" lengthAdjust="spacingAndGlyphs" fill="#1a1a1a" stroke="none" >P.C.D.</text>
<text x="906.6" y="150" font-size="11.5" font-family="DejaVu Sans, sans-serif" font-style="oblique" fill="#111" stroke="#111" stroke-width="0.35">∅</text>
<text x="915.3" y="150" font-size="13.6" text-anchor="start" font-family="Liberation Serif, Noto Serif CJK SC, serif" textLength="17.3" lengthAdjust="spacingAndGlyphs" fill="#1a1a1a" stroke="none" >200</text>
<line x1="876" y1="346.2" x2="938" y2="346.2" stroke-width="1.2" />
<line x1="876" y1="346.2" x2="863" y2="327.3" stroke-width="1.2" />
<polygon points="862.4,326.5 866.92,330.07 864.11,332" fill="#111" stroke="#111" stroke-width="0.3"/>
<text x="880.4" y="344.7" font-size="13.6" text-anchor="start" font-family="Liberation Serif, Noto Serif CJK SC, serif" textLength="30.9" lengthAdjust="spacingAndGlyphs" fill="#1a1a1a" stroke="none" >4-M12</text>
<path d="M912.5 336.4 H921.1 M916.8 336.4 V344.2" stroke-width="1.08" />
<path d="M913.5 338.9 L916.8 344.7 L920.1 338.9" stroke-width="1.32" stroke-linejoin="miter"/>
<text x="922.3" y="344.7" font-size="13.6" text-anchor="start" font-family="Liberation Serif, Noto Serif CJK SC, serif" textLength="11.2" lengthAdjust="spacingAndGlyphs" fill="#1a1a1a" stroke="none" >20</text>
<text x="659.8" y="350.5" font-size="8.8" text-anchor="start" font-family="Liberation Serif, Noto Serif CJK SC, serif" textLength="43.8" lengthAdjust="spacingAndGlyphs" fill="#111" stroke="#111" stroke-width="0.2" >内六角螺丝</text>
<text x="658.9" y="361" font-size="10.5" text-anchor="start" font-family="Liberation Serif, Noto Serif CJK SC, serif" textLength="41.3" lengthAdjust="spacingAndGlyphs" fill="#111" stroke="#111" stroke-width="0.15" >2-M10x35L</text>
<line x1="702.2" y1="355.2" x2="710.8" y2="355.2" stroke-width="1.2" />
<line x1="710.8" y1="355" x2="760.2" y2="277.6" stroke-width="1.2" />
<polygon points="760.5,277.1 758.96,282.65 756.1,280.81" fill="#111" stroke="#111" stroke-width="0.3"/>
<line x1="710" y1="331" x2="710" y2="374.8" stroke-width="1.2" />
<line x1="875.2" y1="331" x2="875.2" y2="374.8" stroke-width="1.2" />
<line x1="710" y1="373" x2="875.2" y2="373" stroke-width="1.2" />
<polygon points="710,373 717,371.3 717,374.7" fill="#111" stroke="#111" stroke-width="0.3"/>
<polygon points="875.2,373 868.2,374.7 868.2,371.3" fill="#111" stroke="#111" stroke-width="0.3"/>
<text transform="translate(794 370.6) rotate(0.03) scale(0.87 1)" y="0.5" font-size="13.6" text-anchor="middle" font-family="Liberation Serif, Noto Serif CJK SC, serif" fill="#1a1a1a" stroke="none" ><tspan font-family="DejaVu Sans" font-size="11.5" dy="0">□</tspan><tspan dy="0">176</tspan></text>
<clipPath id="h6"><path d="M247.5 408.2 L251.5 408.2 L251.5 405.6 L312.9 405.6 L312.9 408.2 L319.9 408.2 L319.9 445.8 L247.5 445.8 Z M247.5 421.9 L275.4 421.9 L280.3 427.1 L275.4 432.4 L247.5 432.4 Z " clip-rule="evenodd"/></clipPath>
<g clip-path="url(#h6)" stroke-width="1.0"><line x1="220.54" y1="423.92" x2="281.92" y2="362.54"/><line x1="222.73" y1="426.11" x2="284.11" y2="364.73"/><line x1="224.92" y1="428.31" x2="286.31" y2="366.92"/><line x1="227.11" y1="430.5" x2="288.5" y2="369.11"/><line x1="229.3" y1="432.69" x2="290.69" y2="371.3"/><line x1="231.5" y1="434.88" x2="292.88" y2="373.5"/><line x1="233.69" y1="437.07" x2="295.07" y2="375.69"/><line x1="235.88" y1="439.27" x2="297.27" y2="377.88"/><line x1="238.07" y1="441.46" x2="299.46" y2="380.07"/><line x1="240.26" y1="443.65" x2="301.65" y2="382.26"/><line x1="242.46" y1="445.84" x2="303.84" y2="384.46"/><line x1="244.65" y1="448.03" x2="306.03" y2="386.65"/><line x1="246.84" y1="450.23" x2="308.23" y2="388.84"/><line x1="249.03" y1="452.42" x2="310.42" y2="391.03"/><line x1="251.22" y1="454.61" x2="312.61" y2="393.22"/><line x1="253.42" y1="456.8" x2="314.8" y2="395.42"/><line x1="255.61" y1="458.99" x2="316.99" y2="397.61"/><line x1="257.8" y1="461.19" x2="319.19" y2="399.8"/><line x1="259.99" y1="463.38" x2="321.38" y2="401.99"/><line x1="262.18" y1="465.57" x2="323.57" y2="404.18"/><line x1="264.38" y1="467.76" x2="325.76" y2="406.38"/><line x1="266.57" y1="469.95" x2="327.95" y2="408.57"/><line x1="268.76" y1="472.15" x2="330.15" y2="410.76"/><line x1="270.95" y1="474.34" x2="332.34" y2="412.95"/><line x1="273.14" y1="476.53" x2="334.53" y2="415.14"/><line x1="275.34" y1="478.72" x2="336.72" y2="417.34"/><line x1="277.53" y1="480.91" x2="338.91" y2="419.53"/><line x1="279.72" y1="483.11" x2="341.11" y2="421.72"/><line x1="281.91" y1="485.3" x2="343.3" y2="423.91"/><line x1="284.1" y1="487.49" x2="345.49" y2="426.1"/></g>
<path d="M247.5 408.2 L251.5 408.2 L251.5 405.6 L312.9 405.6 L312.9 408.2 L319.9 408.2 L319.9 445.8 L247.5 445.8 Z M247.5 421.9 L275.4 421.9 L280.3 427.1 L275.4 432.4 L247.5 432.4 Z " stroke-width="1" fill="none" fill-rule="evenodd"/>
<path d="M251.5 408.2 V413.1 H312.9 V408.2" stroke-width="1.2" stroke="#fff" stroke-width="2.2"/>
<path d="M251.5 408.2 V413.1 H312.9 V408.2" stroke-width="1.2" />
<line x1="253.8" y1="421.9" x2="253.8" y2="432.4" stroke-width="1.08" />
<line x1="275.4" y1="421.9" x2="275.4" y2="432.4" stroke-width="1.08" />
<line x1="253.8" y1="423.4" x2="276.2" y2="423.4" stroke-width="1.8" />
<line x1="253.8" y1="430.9" x2="276.2" y2="430.9" stroke-width="1.8" />
<line x1="249.6" y1="421.9" x2="249.6" y2="432.4" stroke-width="0.96" />
<line x1="240.5" y1="427.1" x2="326.4" y2="427.1" stroke-width="0.96" />
<line x1="215.8" y1="405.6" x2="248.5" y2="405.6" stroke-width="1.08" />
<line x1="215.8" y1="445.8" x2="244" y2="445.8" stroke-width="1.08" />
<line x1="217.8" y1="405.6" x2="217.8" y2="445.8" stroke-width="1.2" />
<polygon points="217.8,405.6 219.5,412.6 216.1,412.6" fill="#111" stroke="#111" stroke-width="0.3"/>
<polygon points="217.8,445.8 216.1,438.8 219.5,438.8" fill="#111" stroke="#111" stroke-width="0.3"/>
<text transform="translate(215.6 426.4) rotate(-90) scale(0.87 1)" y="0.5" font-size="13.6" text-anchor="middle" font-family="Liberation Serif, Noto Serif CJK SC, serif" fill="#1a1a1a" stroke="none" >43</text>
<line x1="233.6" y1="372" x2="233.6" y2="441.7" stroke-width="1.2" />
<polygon points="233.6,421.9 231.9,416.9 235.3,416.9" fill="#111" stroke="#111" stroke-width="0.3"/>
<polygon points="233.6,432.4 235.3,437.4 231.9,437.4" fill="#111" stroke="#111" stroke-width="0.3"/>
<line x1="231.6" y1="421.9" x2="247.5" y2="421.9" stroke-width="1.08" />
<line x1="231.6" y1="432.4" x2="247.5" y2="432.4" stroke-width="1.08" />
<text transform="translate(231.6 386.3) rotate(-90) scale(0.87 1)" y="0.5" font-size="13.6" text-anchor="middle" font-family="Liberation Serif, Noto Serif CJK SC, serif" fill="#1a1a1a" stroke="none" >M12</text>
<line x1="247.5" y1="449.2" x2="247.5" y2="484.6" stroke-width="1.2" />
<line x1="253.8" y1="432.4" x2="253.8" y2="462.8" stroke-width="1.2" />
<line x1="275.6" y1="432.4" x2="275.6" y2="484.6" stroke-width="1.2" />
<line x1="227.3" y1="461.1" x2="247.5" y2="461.1" stroke-width="1.2" />
<polygon points="247.5,461.1 242.5,462.8 242.5,459.4" fill="#111" stroke="#111" stroke-width="0.3"/>
<line x1="253.8" y1="461.1" x2="264.3" y2="461.1" stroke-width="1.2" />
<polygon points="253.8,461.1 258.8,459.4 258.8,462.8" fill="#111" stroke="#111" stroke-width="0.3"/>
<text transform="translate(232.6 459.3) rotate(0.03) scale(0.87 1)" y="0.5" font-size="13.6" text-anchor="middle" font-family="Liberation Serif, Noto Serif CJK SC, serif" fill="#1a1a1a" stroke="none" >8</text>
<line x1="247.5" y1="482.9" x2="275.6" y2="482.9" stroke-width="1.2" />
<polygon points="247.5,482.9 253,481.2 253,484.6" fill="#111" stroke="#111" stroke-width="0.3"/>
<polygon points="275.6,482.9 270.1,484.6 270.1,481.2" fill="#111" stroke="#111" stroke-width="0.3"/>
<text transform="translate(260.6 480.7) rotate(0.03) scale(0.87 1)" y="0.5" font-size="13.6" text-anchor="middle" font-family="Liberation Serif, Noto Serif CJK SC, serif" fill="#1a1a1a" stroke="none" >30</text>
<text x="11.2" y="528.3" font-size="16.1" text-anchor="start" font-family="Liberation Serif, Noto Serif CJK SC, serif" textLength="96.7" lengthAdjust="spacingAndGlyphs" fill="#1a1a1a" stroke="none" >额定输出扭矩</text>
<text x="109.1" y="526.3" font-size="12.5" text-anchor="start" font-family="Noto Sans CJK TC, Noto Sans CJK JP, sans-serif" fill="#1a1a1a" stroke="none" >：</text>
<text x="11.2" y="544.6" font-size="16.1" text-anchor="start" font-family="Liberation Serif, Noto Serif CJK SC, serif" textLength="96.7" lengthAdjust="spacingAndGlyphs" fill="#1a1a1a" stroke="none" >最大输出转矩</text>
<text x="109.1" y="542.6" font-size="12.5" text-anchor="start" font-family="Noto Sans CJK TC, Noto Sans CJK JP, sans-serif" fill="#1a1a1a" stroke="none" >：</text>
<text x="11.2" y="560.8" font-size="16.1" text-anchor="start" font-family="Liberation Serif, Noto Serif CJK SC, serif" textLength="96.7" lengthAdjust="spacingAndGlyphs" fill="#1a1a1a" stroke="none" >额定输入转速</text>
<text x="109.1" y="558.8" font-size="12.5" text-anchor="start" font-family="Noto Sans CJK TC, Noto Sans CJK JP, sans-serif" fill="#1a1a1a" stroke="none" >：</text>
<text x="11.2" y="577.1" font-size="16.1" text-anchor="start" font-family="Liberation Serif, Noto Serif CJK SC, serif" textLength="96.7" lengthAdjust="spacingAndGlyphs" fill="#1a1a1a" stroke="none" >最大输入转速</text>
<text x="109.1" y="575.1" font-size="12.5" text-anchor="start" font-family="Noto Sans CJK TC, Noto Sans CJK JP, sans-serif" fill="#1a1a1a" stroke="none" >：</text>
<text x="11.2" y="593.3" font-size="16.1" text-anchor="start" font-family="Liberation Serif, Noto Serif CJK SC, serif" textLength="96.7" lengthAdjust="spacingAndGlyphs" fill="#1a1a1a" stroke="none" >普通回程背隙</text>
<text x="109.1" y="591.3" font-size="12.5" text-anchor="start" font-family="Noto Sans CJK TC, Noto Sans CJK JP, sans-serif" fill="#1a1a1a" stroke="none" >：</text>
<text x="137.5" y="525.6" font-size="16" text-anchor="start" font-family="Liberation Serif, Noto Serif CJK SC, serif" textLength="21.3" lengthAdjust="spacingAndGlyphs" fill="#1a1a1a" stroke="none" >___</text>
<text x="163.5" y="526.9" font-size="16" text-anchor="start" font-family="Liberation Serif, Noto Serif CJK SC, serif" textLength="24.5" lengthAdjust="spacingAndGlyphs" fill="#1a1a1a" stroke="none" >NM</text>
<text x="124.3" y="543.2" font-size="16" text-anchor="start" font-family="Liberation Serif, Noto Serif CJK SC, serif" textLength="18.3" lengthAdjust="spacingAndGlyphs" fill="#1a1a1a" stroke="none" >1.5</text>
<text x="143.2" y="544.6" font-size="16.1" text-anchor="start" font-family="Liberation Serif, Noto Serif CJK SC, serif" textLength="80.3" lengthAdjust="spacingAndGlyphs" fill="#1a1a1a" stroke="none" >倍额定转矩</text>
<text x="124.3" y="559.4" font-size="16" text-anchor="start" font-family="Liberation Serif, Noto Serif CJK SC, serif" textLength="62" lengthAdjust="spacingAndGlyphs" fill="#1a1a1a" stroke="none" >3000RPM</text>
<text x="124.3" y="575.7" font-size="16" text-anchor="start" font-family="Liberation Serif, Noto Serif CJK SC, serif" textLength="62" lengthAdjust="spacingAndGlyphs" fill="#1a1a1a" stroke="none" >4000RPM</text>
<text x="124.3" y="591.9" font-size="16" text-anchor="start" font-family="Liberation Serif, Noto Serif CJK SC, serif" textLength="77" lengthAdjust="spacingAndGlyphs" fill="#1a1a1a" stroke="none" >≤ 12 Arcmin</text>
<text x="242.5" y="528.3" font-size="16.1" text-anchor="start" font-family="Liberation Serif, Noto Serif CJK SC, serif" textLength="96.7" lengthAdjust="spacingAndGlyphs" fill="#1a1a1a" stroke="none" >平均使用寿命</text>
<text x="342" y="526.3" font-size="12.5" text-anchor="start" font-family="Noto Sans CJK TC, Noto Sans CJK JP, sans-serif" fill="#1a1a1a" stroke="none" >：</text>
<text x="242.5" y="544.6" font-size="16.1" text-anchor="start" font-family="Liberation Serif, Noto Serif CJK SC, serif" textLength="96.7" lengthAdjust="spacingAndGlyphs" fill="#1a1a1a" stroke="none" >满载传动效率</text>
<text x="342" y="542.6" font-size="12.5" text-anchor="start" font-family="Noto Sans CJK TC, Noto Sans CJK JP, sans-serif" fill="#1a1a1a" stroke="none" >：</text>
<text x="242.5" y="560.8" font-size="16.1" text-anchor="start" font-family="Liberation Serif, Noto Serif CJK SC, serif" textLength="96.7" lengthAdjust="spacingAndGlyphs" fill="#1a1a1a" stroke="none" >使用温度范围</text>
<text x="342" y="558.8" font-size="12.5" text-anchor="start" font-family="Noto Sans CJK TC, Noto Sans CJK JP, sans-serif" fill="#1a1a1a" stroke="none" >：</text>
<text x="356.3" y="526.9" font-size="16" text-anchor="start" font-family="Liberation Serif, Noto Serif CJK SC, serif" textLength="45" lengthAdjust="spacingAndGlyphs" fill="#1a1a1a" stroke="none" >20000h</text>
<text x="356.3" y="543.2" font-size="16" text-anchor="start" font-family="Liberation Serif, Noto Serif CJK SC, serif" textLength="46" lengthAdjust="spacingAndGlyphs" fill="#1a1a1a" stroke="none" >≥  94%</text>
<text x="356.3" y="559.4" font-size="16" text-anchor="start" font-family="Liberation Serif, Noto Serif CJK SC, serif" textLength="66" lengthAdjust="spacingAndGlyphs" fill="#1a1a1a" stroke="none" >-20~+80℃</text>
<text x="242.5" y="577.1" font-size="16.1" text-anchor="start" font-family="Liberation Serif, Noto Serif CJK SC, serif" textLength="165" lengthAdjust="spacingAndGlyphs" fill="#1a1a1a" stroke="none" >润滑油脂:全合成润滑脂</text>
<text x="242.5" y="593.3" font-size="16.1" text-anchor="start" font-family="Liberation Serif, Noto Serif CJK SC, serif" textLength="48.3" lengthAdjust="spacingAndGlyphs" fill="#1a1a1a" stroke="none" >噪音值</text>
<text x="342" y="591.3" font-size="12.5" text-anchor="start" font-family="Noto Sans CJK TC, Noto Sans CJK JP, sans-serif" fill="#1a1a1a" stroke="none" >：</text>
<text x="356.3" y="591.9" font-size="16" text-anchor="start" font-family="Liberation Serif, Noto Serif CJK SC, serif" textLength="51.5" lengthAdjust="spacingAndGlyphs" fill="#1a1a1a" stroke="none" >≤70 d B</text>
<rect x="2.6" y="600.6" width="228.7" height="52" stroke-width="1.08" />
<text x="13.8" y="619.2" font-size="13.75" text-anchor="start" font-family="Noto Sans CJK SC, sans-serif" font-weight="bold" textLength="206.3" lengthAdjust="spacingAndGlyphs" fill="#000" stroke="none" >规格尺寸如有变更<tspan lang="zh-TW" font-family="Noto Sans CJK TC, sans-serif">，</tspan>恕不另行通知</text>
<text x="11.3" y="632.2" font-size="14.8" text-anchor="start" font-family="Liberation Serif, Noto Serif CJK SC, serif" textLength="211.3" lengthAdjust="spacingAndGlyphs" fill="#000" stroke="#000" stroke-width="0.5" >SPECIFICATIONS ARE SUBJECT TO</text>
<text x="11.3" y="645.9" font-size="14.8" text-anchor="start" font-family="Liberation Serif, Noto Serif CJK SC, serif" textLength="212" lengthAdjust="spacingAndGlyphs" fill="#000" stroke="#000" stroke-width="0.5" >CHANGE WITHOUT PRIOR NOTICE</text>
<line x1="523.75" y1="449.5" x2="938" y2="449.5" stroke-width="1.44" />
<line x1="523.75" y1="468.3" x2="938" y2="468.3" stroke-width="1.44" />
<line x1="523.75" y1="487.5" x2="938" y2="487.5" stroke-width="1.44" />
<line x1="523.75" y1="506.5" x2="938" y2="506.5" stroke-width="1.44" />
<line x1="523.75" y1="525.6" x2="938" y2="525.6" stroke-width="1.44" />
<line x1="523.75" y1="544.8" x2="938" y2="544.8" stroke-width="1.44" />
<line x1="523.75" y1="563.9" x2="938" y2="563.9" stroke-width="1.44" />
<line x1="523.75" y1="583" x2="938" y2="583" stroke-width="1.44" />
<line x1="523.75" y1="602.1" x2="938" y2="602.1" stroke-width="2.16" />
<line x1="523.75" y1="449.5" x2="523.75" y2="602.1" stroke-width="1.44" />
<line x1="616.25" y1="449.5" x2="616.25" y2="602.1" stroke-width="1.44" />
<line x1="739.25" y1="449.5" x2="739.25" y2="602.1" stroke-width="1.44" />
<line x1="815.75" y1="449.5" x2="815.75" y2="602.1" stroke-width="1.44" />
<text x="569.4" y="465.3" font-size="13.5" text-anchor="middle" font-family="Liberation Serif, Noto Serif CJK SC, serif" textLength="53.8" lengthAdjust="spacingAndGlyphs" fill="#1a1a1a" stroke="none" >客户选型</text>
<text x="677.75" y="465.3" font-size="13.5" text-anchor="middle" font-family="Liberation Serif, Noto Serif CJK SC, serif" textLength="26.5" lengthAdjust="spacingAndGlyphs" fill="#1a1a1a" stroke="none" >型号</text>
<text x="777.5" y="465.3" font-size="13.5" text-anchor="middle" font-family="Liberation Serif, Noto Serif CJK SC, serif" textLength="40.5" lengthAdjust="spacingAndGlyphs" fill="#1a1a1a" stroke="none" >传动比</text>
<text x="876.38" y="465.3" font-size="13.5" text-anchor="middle" font-family="Liberation Serif, Noto Serif CJK SC, serif" textLength="111" lengthAdjust="spacingAndGlyphs" fill="#1a1a1a" stroke="none" >额定输出扭矩<tspan font-size="14">(Nm)</tspan></text>
<text x="677.75" y="483.9" font-size="15" text-anchor="middle" font-family="Liberation Serif, Noto Serif CJK SC, serif" textLength="80.5" lengthAdjust="spacingAndGlyphs" fill="#1a1a1a" stroke="none" >NRE160-L2-20</text>
<text x="779.2" y="483.9" font-size="15" text-anchor="middle" font-family="Liberation Serif, Noto Serif CJK SC, serif" textLength="13" lengthAdjust="spacingAndGlyphs" fill="#1a1a1a" stroke="none" >20</text>
<text x="878.6" y="483.9" font-size="15" text-anchor="middle" font-family="Liberation Serif, Noto Serif CJK SC, serif" textLength="19.5" lengthAdjust="spacingAndGlyphs" fill="#1a1a1a" stroke="none" >364</text>
<text x="677.75" y="503.1" font-size="15" text-anchor="middle" font-family="Liberation Serif, Noto Serif CJK SC, serif" textLength="80.5" lengthAdjust="spacingAndGlyphs" fill="#1a1a1a" stroke="none" >NRE160-L2-25</text>
<text x="779.2" y="503.1" font-size="15" text-anchor="middle" font-family="Liberation Serif, Noto Serif CJK SC, serif" textLength="13" lengthAdjust="spacingAndGlyphs" fill="#1a1a1a" stroke="none" >25</text>
<text x="878.6" y="503.1" font-size="15" text-anchor="middle" font-family="Liberation Serif, Noto Serif CJK SC, serif" textLength="19.5" lengthAdjust="spacingAndGlyphs" fill="#1a1a1a" stroke="none" >364</text>
<text x="677.75" y="522.1" font-size="15" text-anchor="middle" font-family="Liberation Serif, Noto Serif CJK SC, serif" textLength="80.5" lengthAdjust="spacingAndGlyphs" fill="#1a1a1a" stroke="none" >NRE160-L2-35</text>
<text x="779.2" y="522.1" font-size="15" text-anchor="middle" font-family="Liberation Serif, Noto Serif CJK SC, serif" textLength="13" lengthAdjust="spacingAndGlyphs" fill="#1a1a1a" stroke="none" >35</text>
<text x="878.6" y="522.1" font-size="15" text-anchor="middle" font-family="Liberation Serif, Noto Serif CJK SC, serif" textLength="19.5" lengthAdjust="spacingAndGlyphs" fill="#1a1a1a" stroke="none" >364</text>
<text x="677.75" y="541.2" font-size="15" text-anchor="middle" font-family="Liberation Serif, Noto Serif CJK SC, serif" textLength="80.5" lengthAdjust="spacingAndGlyphs" fill="#1a1a1a" stroke="none" >NRE160-L2-40</text>
<text x="779.2" y="541.2" font-size="15" text-anchor="middle" font-family="Liberation Serif, Noto Serif CJK SC, serif" textLength="13" lengthAdjust="spacingAndGlyphs" fill="#1a1a1a" stroke="none" >40</text>
<text x="878.6" y="541.2" font-size="15" text-anchor="middle" font-family="Liberation Serif, Noto Serif CJK SC, serif" textLength="19.5" lengthAdjust="spacingAndGlyphs" fill="#1a1a1a" stroke="none" >364</text>
<text x="677.75" y="560.4" font-size="15" text-anchor="middle" font-family="Liberation Serif, Noto Serif CJK SC, serif" textLength="80.5" lengthAdjust="spacingAndGlyphs" fill="#1a1a1a" stroke="none" >NRE160-L2-50</text>
<text x="779.2" y="560.4" font-size="15" text-anchor="middle" font-family="Liberation Serif, Noto Serif CJK SC, serif" textLength="13" lengthAdjust="spacingAndGlyphs" fill="#1a1a1a" stroke="none" >50</text>
<text x="878.6" y="560.4" font-size="15" text-anchor="middle" font-family="Liberation Serif, Noto Serif CJK SC, serif" textLength="19.5" lengthAdjust="spacingAndGlyphs" fill="#1a1a1a" stroke="none" >364</text>
<text x="677.75" y="579.5" font-size="15" text-anchor="middle" font-family="Liberation Serif, Noto Serif CJK SC, serif" textLength="80.5" lengthAdjust="spacingAndGlyphs" fill="#1a1a1a" stroke="none" >NRE160-L2-70</text>
<text x="779.2" y="579.5" font-size="15" text-anchor="middle" font-family="Liberation Serif, Noto Serif CJK SC, serif" textLength="13" lengthAdjust="spacingAndGlyphs" fill="#1a1a1a" stroke="none" >70</text>
<text x="878.6" y="579.5" font-size="15" text-anchor="middle" font-family="Liberation Serif, Noto Serif CJK SC, serif" textLength="19.5" lengthAdjust="spacingAndGlyphs" fill="#1a1a1a" stroke="none" >358</text>
<text x="677.75" y="598.6" font-size="15" text-anchor="middle" font-family="Liberation Serif, Noto Serif CJK SC, serif" textLength="87.5" lengthAdjust="spacingAndGlyphs" fill="#1a1a1a" stroke="none" >NRE160-L2-100</text>
<text x="779.2" y="598.6" font-size="15" text-anchor="middle" font-family="Liberation Serif, Noto Serif CJK SC, serif" textLength="19.5" lengthAdjust="spacingAndGlyphs" fill="#1a1a1a" stroke="none" >100</text>
<text x="878.6" y="598.6" font-size="15" text-anchor="middle" font-family="Liberation Serif, Noto Serif CJK SC, serif" textLength="19.5" lengthAdjust="spacingAndGlyphs" fill="#1a1a1a" stroke="none" >210</text>
<line x1="376.8" y1="602.1" x2="938" y2="602.1" stroke-width="1.32" />
<line x1="376.8" y1="602.1" x2="376.8" y2="654" stroke-width="1.32" />
<line x1="428.8" y1="602.1" x2="428.8" y2="654" stroke-width="1.32" />
<line x1="376.8" y1="628.3" x2="592" y2="628.3" stroke-width="1.32" />
<line x1="592" y1="602.1" x2="592" y2="654" stroke-width="1.2" />
<line x1="641" y1="602.1" x2="641" y2="654" stroke-width="1.2" />
<text x="382.3" y="623.6" font-size="18.6" text-anchor="start" font-family="Noto Sans CJK SC, sans-serif" font-weight="500" fill="#000" stroke="#000" stroke-width="0.35" >机</text>
<text x="405" y="623.6" font-size="18.6" text-anchor="start" font-family="Noto Sans CJK SC, sans-serif" font-weight="500" fill="#000" stroke="#000" stroke-width="0.35" >型</text>
<text x="382.3" y="649.6" font-size="18.6" text-anchor="start" font-family="Noto Sans CJK SC, sans-serif" font-weight="500" fill="#000" stroke="#000" stroke-width="0.35" >图</text>
<text x="405" y="649.6" font-size="18.6" text-anchor="start" font-family="Noto Sans CJK SC, sans-serif" font-weight="500" fill="#000" stroke="#000" stroke-width="0.35" >号</text>
<text x="512.7" y="622.3" font-size="17.3" text-anchor="middle" font-family="Liberation Serif, Noto Serif CJK SC, serif" textLength="75.6" lengthAdjust="spacingAndGlyphs" fill="#1a1a1a" stroke="none" >NRE160-L2</text>
<text x="509.5" y="646.1" font-size="17.3" text-anchor="middle" font-family="Liberation Serif, Noto Serif CJK SC, serif" textLength="98.8" lengthAdjust="spacingAndGlyphs" fill="#1a1a1a" stroke="none" >NS-NRE160-L2</text>
<text x="689.8" y="640.5" font-size="31.5" text-anchor="start" font-family="Liberation Serif, Noto Serif CJK SC, serif" textLength="89.3" lengthAdjust="spacingAndGlyphs" fill="#1a1a1a" stroke="none" >NSSNFA</text>
<text transform="translate(795.2 641.4) rotate(0.03) scale(0.82 1)" y="0.5" font-size="29.5" text-anchor="middle" font-family="Noto Serif CJK SC, serif" font-weight="300" fill="#1a1a1a" stroke="none" >日</text>
<text transform="translate(824.4 641.4) rotate(0.03) scale(0.82 1)" y="0.5" font-size="29.5" text-anchor="middle" font-family="Noto Serif CJK SC, serif" font-weight="300" fill="#1a1a1a" stroke="none" >新</text>
<text transform="translate(855.2 641.4) rotate(0.03) scale(0.82 1)" y="0.5" font-size="29.5" text-anchor="middle" font-family="Noto Serif CJK SC, serif" font-weight="300" fill="#1a1a1a" stroke="none" >电</text>
<text transform="translate(885.5 641.4) rotate(0.03) scale(0.82 1)" y="0.5" font-size="29.5" text-anchor="middle" font-family="Noto Serif CJK SC, serif" font-weight="300" fill="#1a1a1a" stroke="none" >气</text>
</svg>
</body></html>
